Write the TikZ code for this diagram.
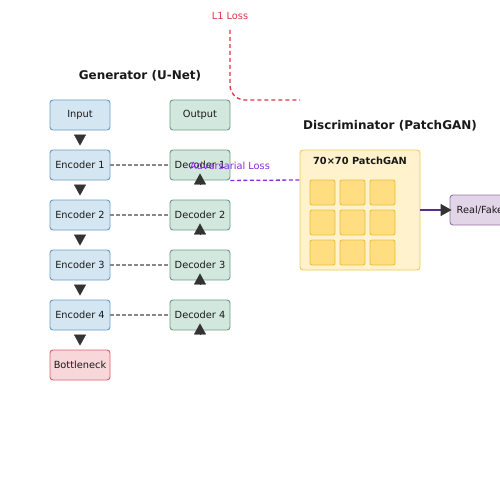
\documentclass[tikz,border=0pt]{standalone}
\usepackage{fontspec}
\setmainfont{DejaVu Sans}
\usetikzlibrary{arrows.meta}
\definecolor{encfill}{HTML}{D4E6F1}
\definecolor{encline}{HTML}{6C9DC6}
\definecolor{decfill}{HTML}{D2E7DD}
\definecolor{decline}{HTML}{6E9D86}
\definecolor{bottfill}{HTML}{F8D7DA}
\definecolor{bottline}{HTML}{D9606A}
\definecolor{discfill}{HTML}{FFF2CC}
\definecolor{discline}{HTML}{F0C85A}
\definecolor{cellfill}{HTML}{FFDD80}
\definecolor{cellline}{HTML}{EFBF3A}
\definecolor{rffill}{HTML}{E1D5E7}
\definecolor{rfline}{HTML}{9673A6}
\definecolor{lossred}{HTML}{DC3545}
\definecolor{advpurple}{HTML}{8A2BE2}
\definecolor{decisionline}{HTML}{5A2D91}
\definecolor{skipgray}{HTML}{888888}
\definecolor{tipgray}{HTML}{333333}
\begin{document}
\begin{tikzpicture}[x=1pt, y=-1pt,
    every node/.style={font=\fontsize{9.8}{12}\selectfont, text=black!90},
    block/.style={draw, rounded corners=3pt, line width=0.9pt, minimum width=60pt, minimum height=30pt, inner sep=0pt},
    enc/.style={block, fill=encfill, draw=encline},
    dec/.style={block, fill=decfill, draw=decline},
    title/.style={font=\fontsize{12}{14}\selectfont\bfseries},
    down/.style={-{Triangle[width=12pt,length=11pt]}, draw=tipgray, color=tipgray, shorten <=5pt, shorten >=4pt},
    up/.style={-{Triangle[width=12pt,length=11pt]}, draw=tipgray, color=tipgray, shorten <=15pt, shorten >=-7pt},
    skip/.style={draw=skipgray, line width=1.3pt, dash pattern=on 4pt off 2pt},
    cell/.style={draw=cellline, fill=cellfill, line width=0.9pt, rounded corners=2pt, minimum size=25pt, inner sep=0pt}]
  \useasboundingbox (0,0) rectangle (500,500);
  \node[title] (gtitle) at (140,76) {Generator (U-Net)};
  \node[enc] (in) at (80,115) {Input};
  \foreach \i in {1,...,4}
    \node[enc] (enc\i) at (80,{115+50*\i}) {Encoder \i};
  \node[block, fill=bottfill, draw=bottline] (bott) at (80,365) {Bottleneck};
  \node[dec] (outp) at (200,115) {Output};
  \foreach \i in {1,...,4}
    \node[dec] (dec\i) at (200,{115+50*\i}) {Decoder \i};
  \coordinate (dec5) at (200,350);
  \draw[down] (in) -- (enc1);
  \foreach \i/\j in {1/2,2/3,3/4}
    \draw[down] (enc\i) -- (enc\j);
  \draw[down] (enc4) -- (bott);
  \foreach \i/\j in {2/1,3/2,4/3,5/4}
    \draw[up] (dec\i) -- (dec\j);
  \foreach \i in {1,...,4}
    \draw[skip] (enc\i) -- (dec\i);
  \node[title] (dtitle) at (390,126) {Discriminator (PatchGAN)};
  \node[draw=discline, fill=discfill, line width=0.9pt, rounded corners=3pt, minimum size=120pt, inner sep=0pt] (disc) at (360,210) {};
  \node[font=\fontsize{9.8}{12}\selectfont\bfseries] (patch) at (360,161) {70×70 PatchGAN};
  \foreach \r in {0,1,2}
    \foreach \c in {0,1,2}
      \node[cell] (p\r\c) at ({322.5+30*\c},{192.5+30*\r}) {};
  \node[block, fill=rffill, draw=rfline] (rf) at (480,210) {Real/Fake};
  \draw[decisionline, line width=1.5pt, -{Triangle[width=12pt,length=11pt,color=tipgray]}, shorten >=-2pt] (disc) -- (rf);
  \node[text=lossred] (l1) at (230,16) {L1 Loss};
  \coordinate (l1end) at (300,100);
  \draw[lossred, line width=1.3pt, dash pattern=on 4pt off 3pt, rounded corners=15pt] (l1) ++(0,14) |- (l1end);
  \coordinate (advend) at (300,180);
  \draw[advpurple, line width=1.3pt, dash pattern=on 4pt off 2.5pt] (dec1.south east) -- (advend);
  \node[text=advpurple] (adv) at (230,166) {Adversarial Loss};
\end{tikzpicture}
\end{document}
